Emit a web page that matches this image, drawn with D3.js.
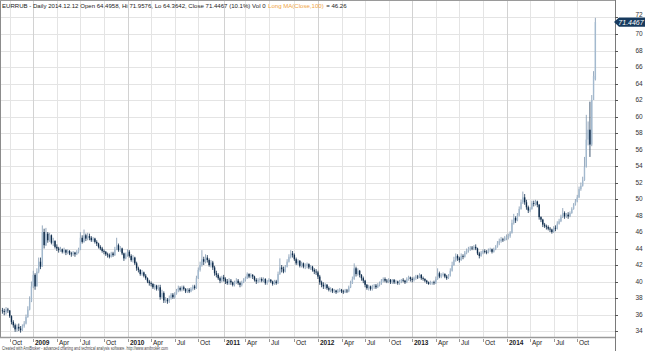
<!DOCTYPE html>
<html>
<head>
<meta charset="utf-8">
<script src="https://cdn.jsdelivr.net/npm/d3@7"></script>
<style>
body { margin: 0; background: #fff; }
svg text { font-family: "Liberation Sans Narrow", "Liberation Sans", Arial, sans-serif; }
</style>
</head>
<body>
<div id="canvas"></div>
<script>
"use strict"

let svgWidth = 645;
let svgHeight = 351;
let plotRight = 615;
let plotBottom = 337;

/* Weekly bars, one array per year: [close, high, low]. Open = previous close. */
let firstOpen = 36.5;

let weeks2008 = [
    [36.4,36.8,36.1],[36.3,36.7,35.9],[36.6,36.9,36.0],[36.5,36.8,36.2],
    [35.8,36.5,35.6],[35.1,35.9,34.8],[34.7,35.3,34.4],[34.2,34.9,33.9],[34.5,34.8,33.9],
    [34.3,34.9,34.0],[34.1,34.6,33.8],[34.6,34.8,34.0],[34.9,35.2,34.4],
    [35.7,36.0,34.8],[36.6,37.0,35.6],[37.6,38.2,36.5],[39.4,40.0,37.5]
];

let weeks2009 = [
    [40.8,41.3,39.2],[39.4,41.0,39.0],[41.2,41.6,39.4],[42.4,42.9,41.0],[41.8,42.9,41.5],
    [46.0,46.8,41.8],[44.4,46.4,44.0],[45.8,46.5,44.3],[45.0,46.0,44.7],
    [45.6,45.9,44.8],[44.7,45.7,44.5],[44.9,45.3,44.3],[44.2,45.0,44.0],
    [44.0,44.5,43.7],[43.8,44.2,43.5],[43.9,44.2,43.6],[43.6,44.0,43.4],
    [43.8,44.1,43.4],[43.5,43.9,43.2],[43.7,43.9,43.3],[43.4,43.8,43.2],[43.3,43.6,43.0],
    [43.5,43.7,43.1],[43.3,43.6,43.0],[43.6,43.8,43.2],[43.9,44.1,43.4],
    [45.3,46.0,43.8],[44.8,45.6,44.6],[45.6,46.3,44.7],[45.2,45.8,44.9],[45.5,45.9,45.0],
    [45.3,45.8,45.0],[45.0,45.5,44.8],[45.2,45.4,44.8],[44.8,45.3,44.6],
    [44.6,45.0,44.3],[44.2,44.7,44.0],[44.0,44.4,43.8],[43.7,44.2,43.5],
    [43.6,43.9,43.3],[43.3,43.7,43.1],[43.2,43.5,42.9],[43.0,43.4,42.8],[43.4,43.6,42.9],
    [43.2,43.6,43.0],[43.9,44.2,43.1],[44.4,45.3,43.8],[43.8,44.6,43.6],
    [44.0,44.3,43.6],[43.4,44.1,43.2],[42.8,43.5,42.5],[43.3,43.5,42.7]
];

let weeks2010 = [
    [43.6,43.9,43.0],[43.1,43.8,42.9],[42.6,43.3,42.4],[42.9,43.2,42.3],[42.2,43.0,42.0],
    [41.6,42.4,41.3],[41.4,41.8,41.1],[40.9,41.5,40.7],[41.1,41.4,40.7],
    [40.7,41.2,40.5],[40.4,40.9,40.2],[40.0,40.5,39.8],[39.8,40.2,39.5],
    [39.7,40.0,39.4],[39.3,39.8,39.1],[39.5,39.7,39.0],[39.1,39.6,38.9],[39.3,39.6,38.9],
    [38.1,39.6,37.8],[38.6,39.0,37.9],[37.7,38.8,37.4],[37.8,38.1,37.4],
    [37.6,38.0,37.3],[38.0,38.3,37.4],[38.4,38.6,37.8],[38.1,38.6,37.9],
    [38.5,38.7,37.9],[38.9,39.1,38.4],[39.2,39.5,38.7],[39.0,39.4,38.8],[39.3,39.5,38.8],
    [39.1,39.5,38.9],[38.8,39.2,38.6],[39.0,39.2,38.6],[38.8,39.2,38.6],
    [39.1,39.3,38.7],[39.4,39.6,38.9],[39.2,39.6,39.0],[40.4,40.7,39.1],
    [41.4,41.7,40.3],[42.0,42.4,41.2],[42.7,43.8,41.8],[42.4,43.0,42.0],[42.9,43.3,42.2],
    [42.6,43.2,42.3],[42.0,42.8,41.8],[42.3,42.6,41.7],[41.7,42.5,41.4],
    [41.0,41.9,40.7],[40.8,41.3,40.5],[40.4,41.0,40.2],[40.1,40.6,39.8],[40.5,40.7,39.9]
];

let weeks2011 = [
    [40.3,40.8,40.0],[40.0,40.5,39.7],[39.8,40.3,39.6],[40.1,40.4,39.6],
    [39.9,40.3,39.6],[39.6,40.0,39.4],[39.9,40.1,39.4],[40.1,40.4,39.7],
    [39.8,40.3,39.6],[39.6,40.0,39.3],[39.9,40.1,39.4],[40.2,40.4,39.8],
    [40.4,40.6,40.0],[40.9,41.1,40.3],[40.6,41.0,40.4],[40.8,41.0,40.4],[40.6,40.9,40.3],
    [40.2,40.7,40.0],[40.0,40.4,39.7],[40.2,40.4,39.8],[40.3,40.5,39.9],
    [40.1,40.5,39.9],[40.3,40.5,39.9],[39.8,40.4,39.6],[40.0,40.2,39.6],
    [40.2,40.4,39.9],[40.0,40.3,39.8],[39.7,40.1,39.5],[40.0,40.2,39.6],[39.8,40.2,39.6],
    [40.9,41.2,39.7],[41.7,42.8,40.8],[41.5,42.0,41.1],[41.2,41.8,41.0],
    [41.8,42.0,41.1],[42.4,42.7,41.7],[43.0,43.3,42.3],[43.4,43.8,42.8],[43.2,43.7,42.9],
    [42.7,43.4,42.5],[42.2,42.9,42.0],[42.5,42.7,42.0],[41.9,42.6,41.7],
    [42.2,42.4,41.7],[41.8,42.3,41.6],[41.9,42.2,41.5],[42.1,42.3,41.6],
    [41.7,42.2,41.5],[41.8,42.0,41.4],[41.4,41.9,41.2],[41.2,41.6,40.9],[41.1,41.5,40.8]
];

let weeks2012 = [
    [40.6,41.3,40.3],[39.9,40.8,39.6],[39.6,40.1,39.3],[39.4,39.9,39.1],
    [39.6,39.8,39.1],[39.2,39.7,39.0],[39.0,39.4,38.8],[39.1,39.3,38.7],
    [38.8,39.2,38.6],[38.9,39.1,38.6],[38.7,39.0,38.5],[38.9,39.1,38.6],[39.0,39.2,38.7],
    [38.8,39.1,38.6],[38.7,39.0,38.5],[38.9,39.1,38.6],[38.8,39.1,38.6],
    [39.3,39.5,38.7],[39.8,40.1,39.2],[40.3,40.6,39.7],[41.6,42.2,40.2],
    [40.9,41.8,40.6],[41.3,41.6,40.7],[40.8,41.4,40.5],[40.4,40.9,40.1],[40.1,40.6,39.8],
    [39.6,40.2,39.3],[39.2,39.7,39.0],[39.4,39.6,38.9],[39.1,39.5,38.9],
    [39.4,39.6,38.9],[39.5,39.7,39.1],[39.3,39.7,39.1],[39.6,39.8,39.2],[39.8,40.0,39.4],
    [40.1,40.3,39.6],[40.3,40.5,39.9],[40.1,40.5,39.9],[40.0,40.3,39.8],
    [40.2,40.4,39.8],[39.9,40.3,39.7],[40.2,40.3,39.7],[39.9,40.3,39.7],
    [40.0,40.2,39.7],[39.8,40.1,39.6],[40.0,40.2,39.6],[40.2,40.3,39.8],[40.1,40.4,39.9],
    [39.9,40.2,39.7],[40.3,40.5,39.8],[40.5,40.7,40.1],[40.3,40.6,40.0]
];

let weeks2013 = [
    [40.2,40.5,39.9],[40.4,40.6,40.0],[40.6,40.8,40.2],[40.5,40.8,40.3],
    [40.8,41.0,40.4],[40.4,40.9,40.2],[40.3,40.6,40.1],[40.1,40.4,39.9],
    [39.9,40.2,39.7],[39.7,40.0,39.6],[39.8,40.1,39.6],[39.9,40.0,39.6],[39.8,40.1,39.6],
    [40.3,40.6,39.7],[41.0,41.6,40.2],[40.6,41.2,40.4],[40.8,41.0,40.4],
    [40.9,41.1,40.6],[40.6,41.0,40.4],[40.4,40.8,40.2],[40.7,40.9,40.3],[41.3,41.6,40.6],
    [42.0,42.4,41.2],[42.6,43.0,41.9],[43.1,43.4,42.4],[42.8,43.3,42.5],
    [42.6,43.0,42.3],[43.1,43.4,42.5],[43.0,43.3,42.7],[43.5,43.7,42.9],
    [43.8,44.0,43.3],[43.9,44.2,43.5],[44.1,44.3,43.7],[44.0,44.3,43.8],[44.2,44.4,43.8],
    [44.0,44.5,43.8],[43.4,44.1,43.2],[43.1,43.6,42.8],[43.5,43.7,43.0],
    [43.7,43.9,43.3],[43.6,43.9,43.4],[43.5,43.8,43.3],[43.8,44.0,43.4],
    [43.9,44.1,43.6],[43.6,44.0,43.4],[43.9,44.1,43.5],[44.2,44.4,43.8],[44.6,44.9,44.1],
    [44.9,45.2,44.4],[45.1,45.4,44.7],[45.0,45.3,44.8],[45.3,45.5,44.9]
];

let weeks2014 = [
    [45.4,45.7,45.0],[45.5,45.8,45.1],[45.9,46.1,45.3],[47.1,47.5,45.8],[47.7,48.2,46.9],
    [47.4,47.9,47.1],[48.0,48.3,47.3],[48.8,49.1,47.9],[49.6,49.9,48.7],
    [50.2,50.9,49.4],[49.6,50.6,49.3],[49.0,49.9,48.7],[48.6,49.2,48.3],
    [48.8,49.0,48.4],[49.5,49.8,48.7],[49.4,49.8,49.1],[49.7,49.9,49.2],
    [49.3,49.8,49.0],[47.8,49.4,47.5],[47.5,47.9,47.2],[46.9,47.6,46.6],[46.7,47.1,46.5],
    [46.6,46.9,46.3],[46.4,46.8,46.2],[46.3,46.6,46.0],[46.0,46.4,45.8],
    [46.5,46.7,45.9],[46.4,46.8,46.1],[47.0,47.3,46.3],[47.3,47.6,46.9],
    [47.8,48.1,47.2],[48.3,48.9,47.7],[47.9,48.5,47.6],[48.1,48.3,47.7],[47.9,48.4,47.6],
    [48.3,48.5,47.8],[48.8,49.0,48.2],[49.3,49.5,48.7],[49.7,50.0,49.2],
    [50.2,50.5,49.6],[51.2,51.5,50.1],[51.6,52.0,51.0],[52.3,52.7,51.5],[53.9,55.1,52.2],
    [57.2,60.2,53.8],[58.4,59.4,56.5],[56.6,61.8,55.1],[62.0,62.6,56.4],
    [64.9,65.5,62.9],[71.4467,71.9576,64.3642]
];

/* first weekly bar (Friday) of each year block */
let yearBlocks = [
    {start: "2008-09-05", rows: weeks2008},
    {start: "2009-01-02", rows: weeks2009},
    {start: "2010-01-01", rows: weeks2010},
    {start: "2011-01-07", rows: weeks2011},
    {start: "2012-01-06", rows: weeks2012},
    {start: "2013-01-04", rows: weeks2013},
    {start: "2014-01-03", rows: weeks2014}
];

let lastOpen = 64.4958;
let lastClose = 71.4467;
let yTicks = d3.range(34, 73, 2);

let titleParts = [
    {text: "EURRUB - Daily 2014.12.12  Open 64.4958, Hi 71.9576, Lo 64.3642, Close 71.4467 (10.1%) Vol 0", color: "#222"},
    {text: "Long MA(Close,100)", color: "#f0a443"},
    {text: "= 46.26", color: "#222"}
];

/* Build bar list */
let parseDate = d3.timeParse("%Y-%m-%d");
let bars = [];
let prevClose = firstOpen;
yearBlocks.forEach(function(block){
    let d0 = parseDate(block.start);
    block.rows.forEach(function(r, i){
        bars.push({date: d3.timeDay.offset(d0, 7 * i), open: prevClose,
                   close: r[0], high: r[1], low: r[2]});
        prevClose = r[0];
    });
});
bars[bars.length - 1].open = lastOpen;

/* Create drawing canvas */
let svg = d3.select("#canvas")
    .append("svg")
    .attr("width", svgWidth)
    .attr("height", svgHeight);

svg.append("rect")
    .attr("width", svgWidth)
    .attr("height", svgHeight)
    .attr("fill", "white");

/* Scales */
let xScale = d3.scaleTime()
    .domain([new Date(2009, 0, 1), new Date(2014, 0, 1)])
    .range([33, 506]);

let yScale = d3.scaleLinear()
    .domain([34, 70])
    .range([331, 34]);

/* horizontal grid */
svg.selectAll("line.hgrid")
    .data(yTicks)
    .join("line")
    .attr("class", "hgrid")
    .attr("x1", 1)
    .attr("x2", plotRight)
    .attr("y1", d => Math.round(yScale(d)) + 0.5)
    .attr("y2", d => Math.round(yScale(d)) + 0.5)
    .attr("stroke", "#e4e4e4");

/* vertical grid: first bar of every quarter */
let quarters = d3.timeMonth.every(3).range(new Date(2008, 9, 1), new Date(2015, 0, 1));
let quarterMarks = quarters.map(function(m){
    let first = bars.find(b => b.date >= m);
    return {month: m, x: Math.round(xScale(first.date)) + 0.5};
});

svg.selectAll("line.vgrid")
    .data(quarterMarks)
    .join("line")
    .attr("class", "vgrid")
    .attr("x1", d => d.x)
    .attr("x2", d => d.x)
    .attr("y1", 1)
    .attr("y2", plotBottom)
    .attr("stroke", d => d.month.getMonth() === 0 ? "#d2d2d2" : "#e4e4e4");

/* Candles: wicks then bodies */
svg.selectAll("line.wick")
    .data(bars)
    .join("line")
    .attr("class", "wick")
    .attr("x1", d => xScale(d.date))
    .attr("x2", d => xScale(d.date))
    .attr("y1", d => yScale(d.high))
    .attr("y2", d => yScale(d.low))
    .attr("stroke", d => d.close >= d.open ? "#7d96ae" : "#0e2c4c")
    .attr("stroke-width", 0.8);

svg.selectAll("rect.body")
    .data(bars)
    .join("rect")
    .attr("class", "body")
    .attr("x", d => xScale(d.date) - 0.7)
    .attr("width", 1.4)
    .attr("y", d => yScale(Math.max(d.open, d.close)))
    .attr("height", d => Math.max(0.8, Math.abs(yScale(d.open) - yScale(d.close))))
    .attr("fill", d => d.close >= d.open ? "#a3b9ce" : "#0e2c4c");

/* frame */
svg.append("line")
    .attr("x1", 0.5).attr("y1", 0).attr("x2", 0.5).attr("y2", plotBottom)
    .attr("stroke", "#8c8c8c");
svg.append("line")
    .attr("x1", 0).attr("y1", 0.5).attr("x2", plotRight).attr("y2", 0.5)
    .attr("stroke", "#9a9a9a");
svg.append("line")
    .attr("x1", 0).attr("y1", plotBottom + 0.5).attr("x2", plotRight).attr("y2", plotBottom + 0.5)
    .attr("stroke", "#9a9a9a")
    .attr("stroke-width", 1.5);
svg.append("line")
    .attr("x1", plotRight + 0.5).attr("y1", 0).attr("x2", plotRight + 0.5).attr("y2", svgHeight)
    .attr("stroke", "#7a7a7a");

/* right axis ticks and labels */
svg.selectAll("line.ytick")
    .data(yTicks)
    .join("line")
    .attr("class", "ytick")
    .attr("x1", plotRight)
    .attr("x2", plotRight + 3)
    .attr("y1", d => Math.round(yScale(d)) + 0.5)
    .attr("y2", d => Math.round(yScale(d)) + 0.5)
    .attr("stroke", "#555");

/* top label sits just above the last-value badge */
let yLast = yScale(lastClose);
svg.selectAll("text.ylabel")
    .data(yTicks)
    .join("text")
    .attr("class", "ylabel")
    .attr("x", 639)
    .attr("y", d => Math.min(yScale(d) + 2.3, d > lastClose ? yLast - 5 : 999))
    .attr("text-anchor", "middle")
    .attr("font-size", 6.5)
    .attr("fill", "#333")
    .text(d => d);

/* x axis ticks and labels */
let monthNames = ["Jan", "Feb", "Mar", "Apr", "May", "Jun", "Jul", "Aug", "Sep", "Oct", "Nov", "Dec"];

svg.selectAll("line.xtick")
    .data(quarterMarks)
    .join("line")
    .attr("class", "xtick")
    .attr("x1", d => d.x)
    .attr("x2", d => d.x)
    .attr("y1", plotBottom + 2)
    .attr("y2", plotBottom + 5)
    .attr("stroke", "#555")
    .attr("stroke-width", 0.6);

svg.selectAll("text.xlabel")
    .data(quarterMarks)
    .join("text")
    .attr("class", "xlabel")
    .attr("x", d => d.x + 1.5)
    .attr("y", 345)
    .attr("font-size", 6.5)
    .attr("font-weight", d => d.month.getMonth() === 0 ? "bold" : "normal")
    .attr("fill", "#222")
    .text(d => d.month.getMonth() === 0 ? d.month.getFullYear() : monthNames[d.month.getMonth()]);

/* title: pieces placed one after another, font sized to fill ~345px */
let titleWidth = 345;
let titleGap = 2.5;
let titleTexts = svg.selectAll("text.title")
    .data(titleParts)
    .join("text")
    .attr("class", "title")
    .attr("y", 7.5)
    .attr("font-size", 7)
    .attr("fill", d => d.color)
    .text(d => d.text);

let natural = 0;
titleTexts.each(function(){ natural += this.getComputedTextLength(); });
let titleSize = 7 * (titleWidth - titleGap * 2) / natural;
titleTexts.attr("font-size", titleSize);

let cursor = 2;
titleTexts.each(function(){
    d3.select(this).attr("x", cursor);
    cursor += this.getComputedTextLength() + titleGap;
});

/* last value badge */
svg.append("path")
    .attr("d", "M" + (plotRight - 1) + "," + yLast +
               " L" + (plotRight + 4) + "," + (yLast - 4.6) +
               " H" + svgWidth + " V" + (yLast + 4.6) +
               " H" + (plotRight + 4) + " Z")
    .attr("fill", "#173a5e");

svg.append("text")
    .attr("x", 631)
    .attr("y", yLast + 2.5)
    .attr("text-anchor", "middle")
    .attr("font-size", 7)
    .attr("font-style", "italic")
    .attr("fill", "white")
    .text(lastClose);

/* footer */
svg.append("text")
    .attr("x", 2)
    .attr("y", 350)
    .attr("font-size", 4.5)
    .attr("fill", "#444")
    .attr("textLength", 166)
    .attr("lengthAdjust", "spacingAndGlyphs")
    .text("Created with AmiBroker - advanced charting and technical analysis software. http://www.amibroker.com");
</script>
</body>
</html>
